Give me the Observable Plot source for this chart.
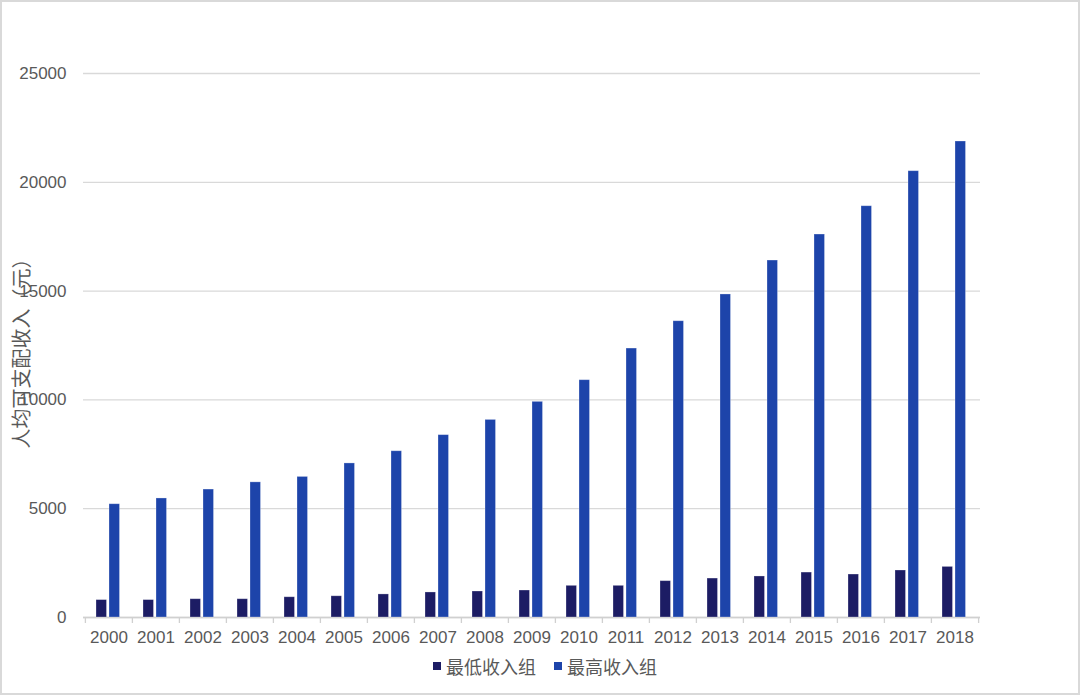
<!DOCTYPE html>
<html><head><meta charset="utf-8">
<script src="https://cdn.jsdelivr.net/npm/d3@7"></script>
<script src="https://cdn.jsdelivr.net/npm/@observablehq/plot@0.6"></script>
<style>
body{margin:0;background:#fff;}
#wrap{position:relative;width:1080px;height:695px;overflow:hidden;background:#fff;font-family:"Liberation Sans",Arial,"Noto Sans CJK SC",sans-serif;}
#frame{position:absolute;left:0;top:0;width:1080px;height:695px;box-sizing:border-box;border:2px solid #d9d9d9;pointer-events:none;}
#legend{display:flex;justify-content:center;align-items:center;height:32px;font-size:18px;color:#595959;font-family:"Noto Sans CJK SC","Liberation Sans",sans-serif;padding-left:10px;}
.item{display:flex;align-items:center;margin:0 9px;}
.sw{width:8px;height:8px;margin-right:5px;}
</style></head><body>
<div id="wrap"><div id="chart"></div><div id="legend"></div><div id="frame"></div></div>
<script>
const years = [2000,2001,2002,2003,2004,2005,2006,2007,2008,2009,2010,2011,2012,2013,2014,2015,2016,2017,2018];
const lowIncome = [800,800,840,840,930,975,1060,1150,1195,1240,1455,1455,1670,1790,1885,2065,1975,2160,2325];
const highIncome = [5205,5470,5880,6210,6460,7080,7640,8380,9080,9910,10905,12360,13615,14845,16405,17600,18900,20510,21875];
const seriesNames = ["最低收入组","最高收入组"];
const seriesColors = ["#1c1c64","#1d44aa"];
const yTicks = [0,5000,10000,15000,20000,25000];
const yTitle = "人均可支配收入（元）";

const yearLabels = years.map(String);
const data = years.map((y,i)=>({year:String(y), low:lowIncome[i], high:highIncome[i]}));

const W = 1080, mL = 83, mR = 100;
const half = (W - mL - mR) / years.length / 2;
const txt = "#595959";

const chart = Plot.plot({
  width: W, height: 650,
  marginLeft: mL, marginRight: mR, marginTop: 73, marginBottom: 33,
  style: {fontFamily: '"Liberation Sans", Arial, "Noto Sans CJK SC", sans-serif', fontSize: "17px", color: txt, background: "transparent", overflow: "visible"},
  x: {domain: yearLabels, padding: 0},
  y: {domain: [0, 25000]},
  marks: [
    Plot.gridY(yTicks, {stroke: "#d9d9d9", strokeOpacity: 1, strokeWidth: 1.3}),
    Plot.axisY(yTicks, {tickSize: 0, tickPadding: 17, tickFormat: d3.format("d"), label: null, fill: txt}),
    Plot.axisX({tickSize: 0, tickPadding: 13, label: null, fill: txt}),
    Plot.axisX(yearLabels, {tickSize: 6, dx: -half, tickFormat: () => "", stroke: "#d0d0d0", strokeWidth: 1.3, label: null}),
    Plot.axisX([yearLabels[yearLabels.length-1]], {tickSize: 6, dx: half, tickFormat: () => "", stroke: "#d0d0d0", strokeWidth: 1.3, label: null}),
    Plot.ruleY([0], {stroke: "#d0d0d0", strokeWidth: 1.5}),
    Plot.barY(data, {x: "year", y: "low", fill: seriesColors[0], insetLeft: 11, insetRight: 25.5, stroke: "#ffffff", strokeOpacity: 0.35, strokeWidth: 0.8}),
    Plot.barY(data, {x: "year", y: "high", fill: seriesColors[1], insetLeft: 24, insetRight: 12.5, stroke: "#ffffff", strokeOpacity: 0.35, strokeWidth: 0.8}),
    Plot.text([yTitle], {text: d => d, frameAnchor: "left", textAnchor: "middle", rotate: -90, dx: -61, dy: 3, fontSize: 20, fill: txt, fontFamily: '"Noto Sans CJK SC", sans-serif'})
  ]
});
document.getElementById("chart").appendChild(chart);

const legend = document.getElementById("legend");
seriesNames.forEach((n,i)=>{
  const it = document.createElement("div"); it.className = "item";
  const sw = document.createElement("div"); sw.className = "sw"; sw.style.background = seriesColors[i];
  const t = document.createElement("span"); t.textContent = n;
  it.appendChild(sw); it.appendChild(t); legend.appendChild(it);
});
</script>
</body></html>
